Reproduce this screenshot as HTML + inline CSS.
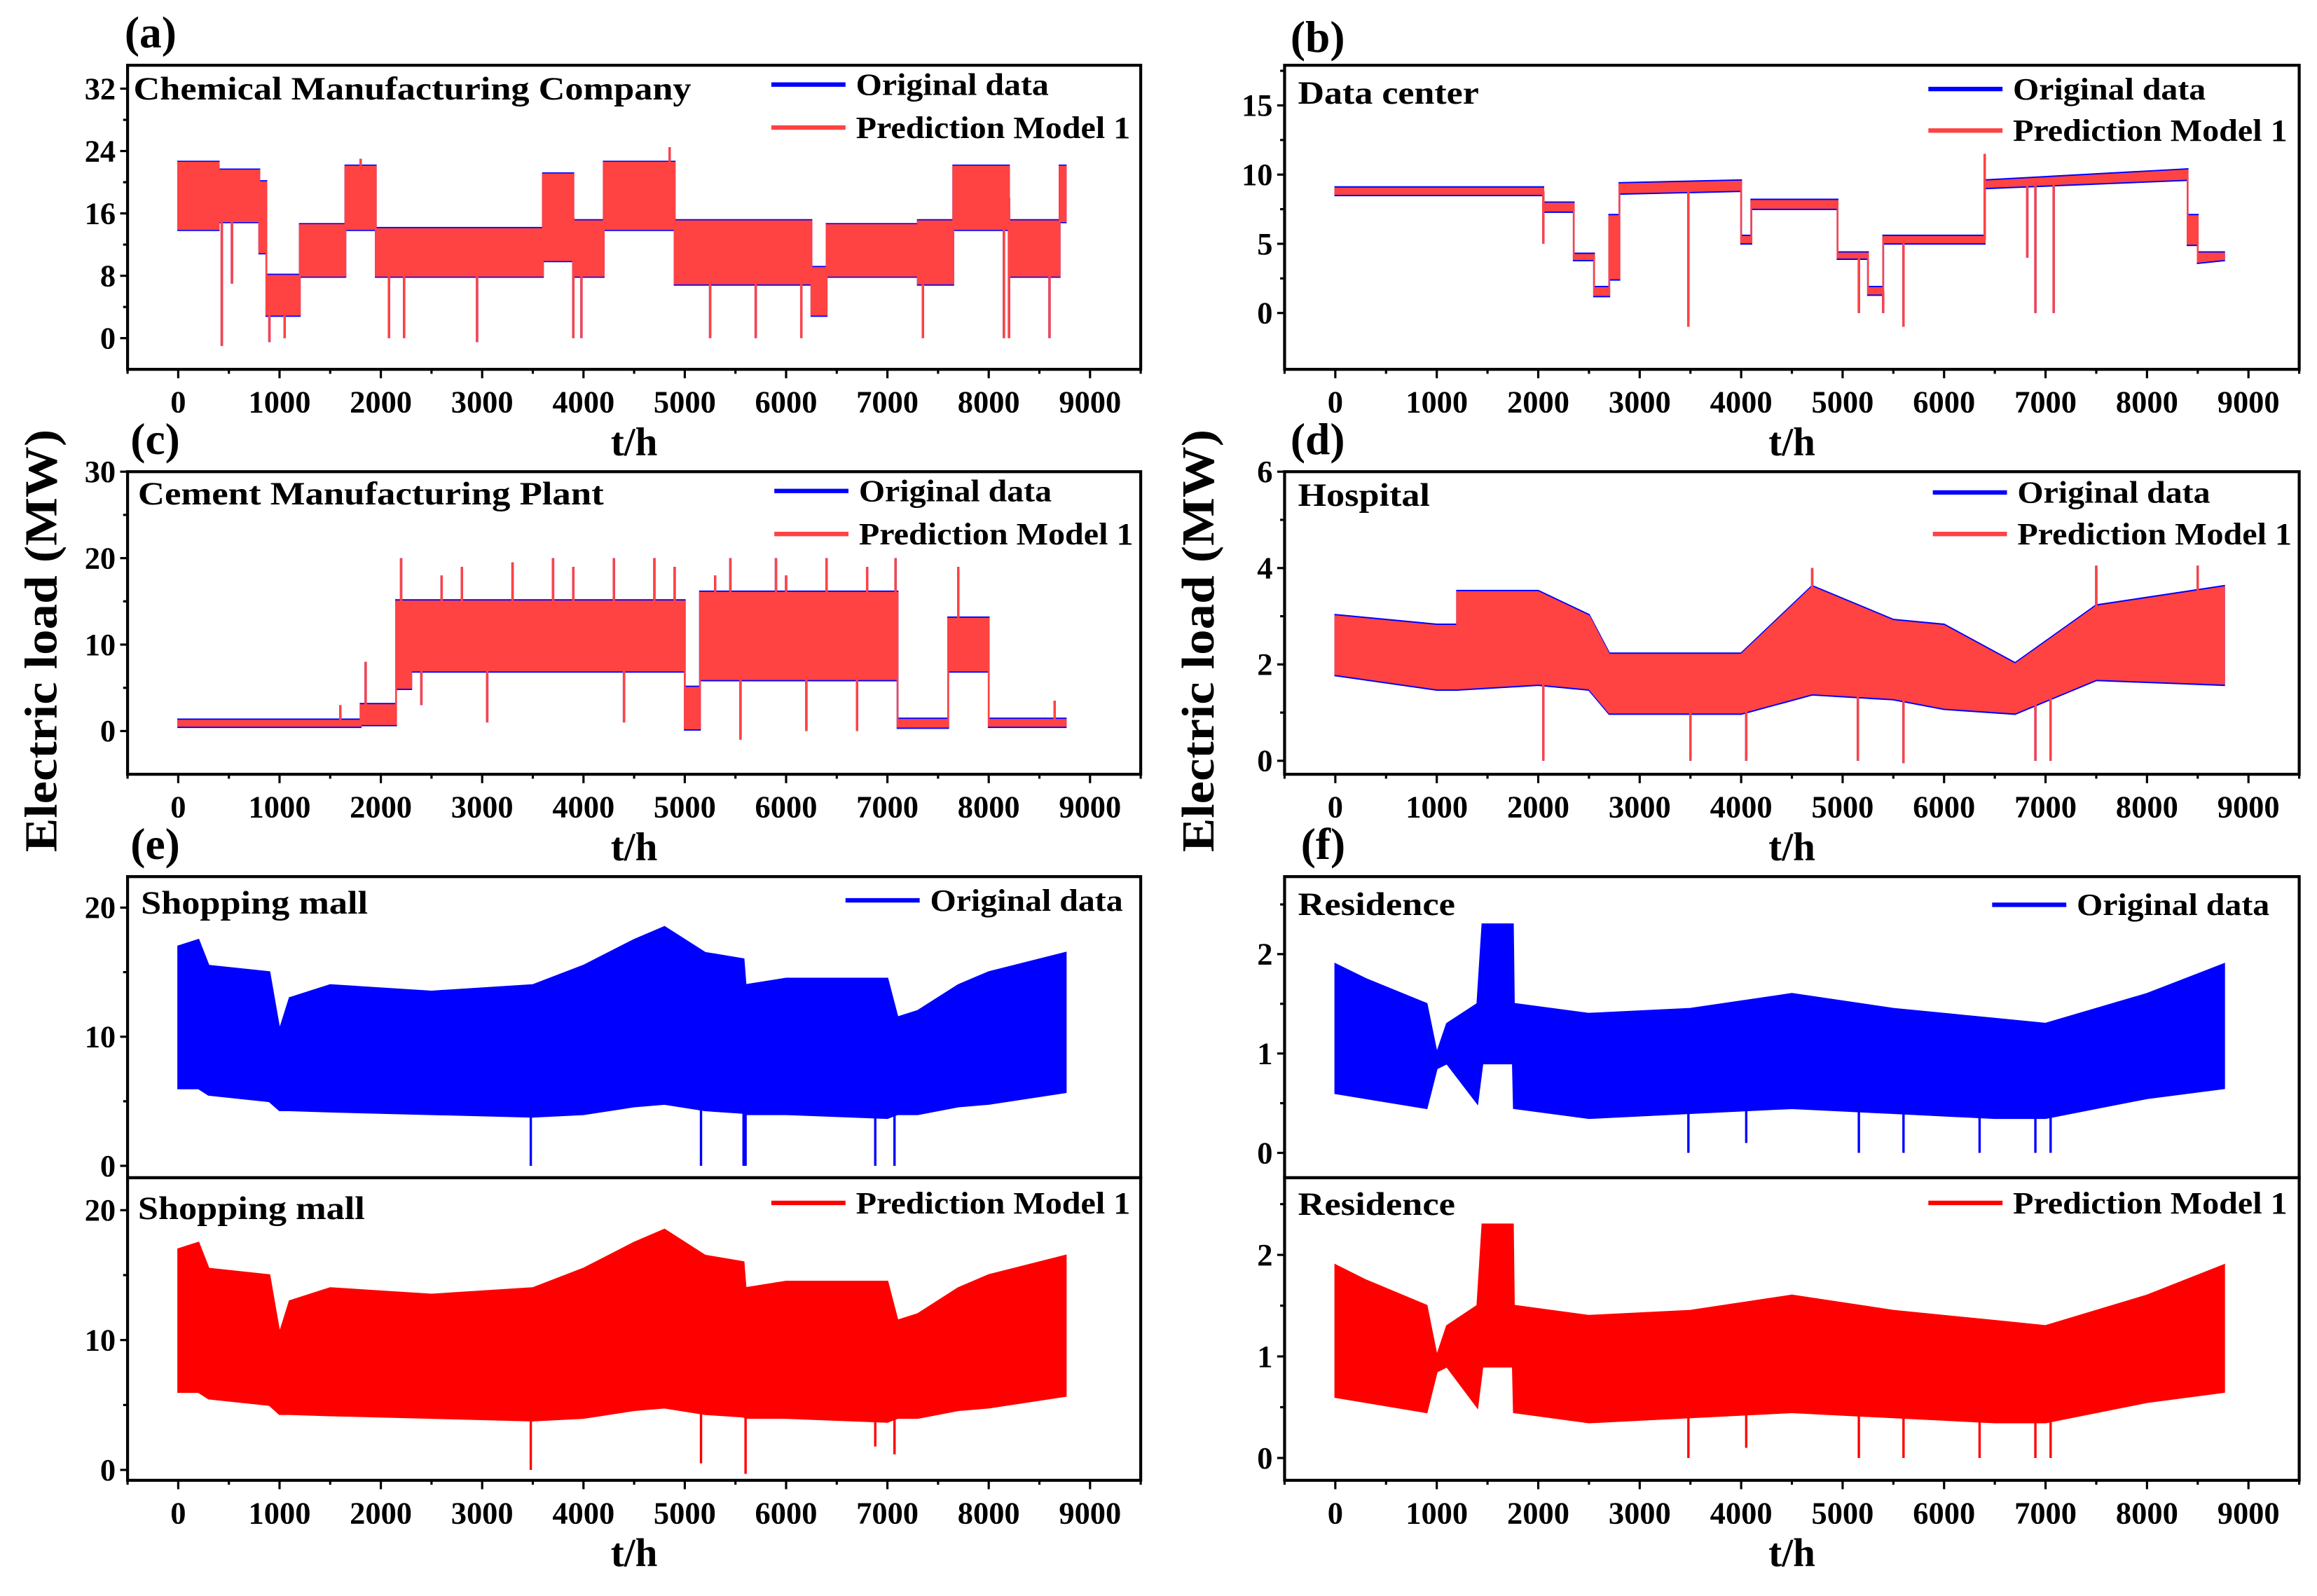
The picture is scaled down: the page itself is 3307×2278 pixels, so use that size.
<!DOCTYPE html>
<html><head><meta charset="utf-8">
<style>
html,body{margin:0;padding:0;background:#fff;}
svg{display:block;}
text{font-family:"Liberation Serif",serif;font-weight:bold;fill:#000;}
</style></head>
<body>
<svg id="fig" width="3307" height="2278" viewBox="0 0 1562 1076" preserveAspectRatio="none" xmlns="http://www.w3.org/2000/svg"></svg>
<script>
// ---- data (a) chemical
const aT=[0,400,400,800,800,870,870,1200,1200,1650,1650,1950,1950,3600,3600,3900,3900,4200,4200,4900,4900,6250,6250,6400,6400,7300,7300,7650,7650,8200,8200,8700,8700,8760];
const aTop=[22.5,22.5,21.5,21.5,20,20,8,8,14.5,14.5,22,22,14,14,21,21,15,15,22.5,22.5,15,15,9,9,14.5,14.5,15,15,22,22,15,15,22,22];
const aBot=[14,14,15,15,11,11,3,3,8,8,14,14,8,8,10,10,8,8,14,14,7,7,3,3,8,8,7,7,14,14,8,8,15,15];
const aSpT=[430,530,900,1050,2080,2230,2950,3900,3980,5250,5700,6150,7350,8150,8200,8600,4850,1800];
const aSpV=[-1,7,-0.5,0,0,0,-0.5,0,0,0,0,0,0,0,0,0,24.5,23];
// ---- data (b) data center
const bT=[0,2050,2050,2350,2350,2550,2550,2700,2700,2800,2800,4000,4000,4100,4100,4950,4950,5250,5250,5400,5400,6400,6400,8400,8400,8500,8500,8760];
const bTop=[9.0,9.0,7.9,7.9,4.2,4.2,1.8,1.8,7,7,9.3,9.5,5.5,5.5,8.1,8.1,4.3,4.3,1.8,1.8,5.5,5.5,9.5,10.3,7,7,4.3,4.3];
const bBot=[8.6,8.6,7.4,7.4,3.9,3.9,1.3,1.3,2.5,2.5,8.7,8.9,5.1,5.1,7.6,7.6,4.0,4.0,1.4,1.4,5.1,5.1,9.1,9.7,5,5,3.7,3.9];
const bSpT=[2050,3480,5600,5160,6400,6900,7080,6820,5400];
const bSpV=[5,-1,-1,0,11.5,0,0,4,0];
// ---- data (c) cement
const cT=[0,1800,1800,2150,2150,2300,2300,5000,5000,5150,5150,7100,7100,7600,7600,8000,8000,8760];
const cTop=[1.2,1.2,3,3,15,15,15,15,5,5,16,16,1.3,1.3,13,13,1.3,1.3];
const cBot=[0.6,0.6,0.8,0.8,5,5,7,7,0.3,0.3,6,6,0.5,0.5,7,7,0.6,0.6];
const cSpT=[1850,2200,2800,3300,3700,4300,4700,5450,5900,6400,7080,7700,1600,8650,3050,4400,5550,6200,6700,2400,2600,3900,4900,5300,6000,6800];
const cSpV=[8,20,19,19.5,20,20,20,20,20,20,20,19,3,3.5,1,1,-1,0,0,3,18,19,19,18,18,19];
// ---- data (d) hospital
const dT=[0,1000,1200,1200,2000,2500,2700,4000,4700,5500,6000,6700,7500,8760];
const dTop=[3.0,2.8,2.8,3.5,3.5,3.0,2.2,2.2,3.6,2.9,2.8,2.0,3.2,3.6];
const dBot=[1.8,1.5,1.5,1.5,1.6,1.5,1.0,1.0,1.4,1.3,1.1,1.0,1.7,1.6];
const dSpT=[2050,3500,4050,5150,5600,6900,7050,4700,7500,8500];
const dSpV=[0,0,0,0,-0.05,0,0,4,4.05,4.05];
// ---- data (e) shopping mall
const eT=[0,200,300,900,1000,1100,1500,2500,3500,4000,4500,4800,5200,5580,5600,6000,7000,7100,7300,7700,8000,8760];
const eTop=[17,17.5,15.5,15,10.5,13,14,13.5,14,15.5,17.5,18.5,16.5,16,14,14.5,14.5,11.5,12,14,15,16.5];
const eBot=[6,6,5.5,5,4.3,4.3,4.2,4.0,3.8,4,4.6,4.8,4.3,4.1,4.0,4.0,3.7,4.0,4.0,4.6,4.8,5.7];
const eSpT=[3480,5160,5580,5600,6880,7070];
const eSpV=[0,0,0,0,0,0];
const e2SpT=[3480,5160,5600,6880,7070];
const e2SpV=[0,0.5,-0.3,1.8,1.2];
// ---- data (f) residence
const fT=[0,300,900,1000,1100,1400,1450,1750,1760,2500,3500,4500,5500,6500,7000,7500,8000,8760];
const fTop=[1.9,1.75,1.5,1.0,1.3,1.5,2.3,2.3,1.5,1.4,1.45,1.6,1.45,1.35,1.3,1.45,1.6,1.9];
const fBot=[0.6,0.55,0.45,0.85,0.9,0.5,0.9,0.9,0.45,0.35,0.4,0.45,0.4,0.35,0.35,0.45,0.55,0.65];
const fSpT=[3480,4050,5160,5600,6350,6900,7050];
const fSpV=[0,0.1,0,0,0,0,0];
const xTicks=[0,1000,2000,3000,4000,5000,6000,7000,8000,9000];

const NS="http://www.w3.org/2000/svg";
const svg=document.getElementById('fig');
function mk(tag,attrs,parent){const e=document.createElementNS(NS,tag);for(const k in attrs)e.setAttribute(k,attrs[k]);(parent||svg).appendChild(e);return e;}
function interp(T,V,t){for(let i=0;i<T.length-1;i++){if(t>=T[i]&&t<=T[i+1]){const d=T[i+1]-T[i];return d?V[i]+(V[i+1]-V[i])*(t-T[i])/d:V[i+1];}}return V[V.length-1];}

function panel(p){
  const g=mk('g',{});
  
  
  const X=t=>p.x0+(t-(-500))/10000*(p.x1-p.x0);
  const Y=v=>p.y1-(v-p.ymin)/(p.ymax-p.ymin)*(p.y1-p.y0);
  p.series.forEach(s=>{
    const sg=mk('g',{},g);
    
    
    let pts=[];
    for(let i=0;i<s.T.length;i++)pts.push(X(s.T[i]).toFixed(2)+','+Y(s.top[i]+s.off).toFixed(2));
    for(let i=s.T.length-1;i>=0;i--)pts.push(X(s.T[i]).toFixed(2)+','+Y(s.bot[i]-s.off).toFixed(2));
    const poly=mk('polygon',{points:pts.join(' '),fill:s.color,stroke:s.color,'stroke-width':s.sw,'stroke-linejoin':'miter'},sg);
    
    
    for(let i=0;i<s.spT.length;i++){
      const mid=(interp(s.T,s.top,s.spT[i])+interp(s.T,s.bot,s.spT[i]))/2;
      const l=mk('line',{x1:X(s.spT[i]),x2:X(s.spT[i]),y1:Y(mid),y2:Y(s.spV[i]),stroke:s.color,'stroke-width':1.6},sg);
      
      
    }
  });
  const fr=mk('rect',{x:p.x0,y:p.y0,width:p.x1-p.x0,height:p.y1-p.y0,fill:'none',stroke:'#000','stroke-width':2},g);
  
  
  for(let v=p.yt0;v<=p.ymax+1e-9;v+=p.ystep/2){
    const major=Math.abs(Math.round(v/p.ystep)*p.ystep-v)<1e-6;
    mk('line',{x1:p.x0,x2:p.x0-(major?5:3),y1:Y(v),y2:Y(v),stroke:'#000','stroke-width':1.5},g);
    if(major){const t=mk('text',{x:p.x0-8,y:Y(v)+7,'text-anchor':'end','font-size':21},g);t.textContent=String(+v.toFixed(2));
      
      }
  }
  if(p.xaxis){
    for(let k=-500;k<=9500;k+=500){
      const major=k%1000===0;
      mk('line',{x1:X(k),x2:X(k),y1:p.y1,y2:p.y1+(major?6:3),stroke:'#000','stroke-width':1.5},g);
    }
    xTicks.forEach(k=>{const t=mk('text',{x:X(k),y:p.y1+29,'text-anchor':'middle','font-size':21},g);t.textContent=k;
      
      });
    const xt=mk('text',{x:(p.x0+p.x1)/2,y:p.y1+58,'text-anchor':'middle','font-size':27},g);xt.textContent='t/h';
    
    
  }
  const tt=mk('text',{x:p.tx,y:p.ty+7,'font-size':22,textLength:p.tw,lengthAdjust:'spacingAndGlyphs'},g);tt.textContent=p.title;
  
  
  p.legend.forEach(L=>{
    const ll=mk('line',{x1:L.x,x2:L.x+50,y1:L.y,y2:L.y,stroke:L.color,'stroke-width':3},g);
    
    
    const lt=mk('text',{x:L.x+57,y:L.y+7,'font-size':21,textLength:L.w,lengthAdjust:'spacingAndGlyphs'},g);lt.textContent=L.label;
    
    
  });
}
const BLUE='#0000ff',RED='#ff4343',PRED='#ff0000';
function two(T,top,bot,spT,spV,off){return[
  {name:'original-data',T:T,top:top,bot:bot,spT:spT,spV:spV,color:BLUE,off:off,sw:1.2},
  {name:'prediction-model-1',T:T,top:top,bot:bot,spT:spT,spV:spV,color:RED,off:0,sw:1.2}];}
const OD='Original data',PM='Prediction Model 1';
panel({name:'panel-a',x0:86,x1:769,y0:44,y1:249,ymin:-4,ymax:35,yt0:0,ystep:8,xaxis:true,
  title:'Chemical Manufacturing Company',tx:90,ty:60,tw:376,series:two(aT,aTop,aBot,aSpT,aSpV,0.15),
  legend:[{x:520,y:57,color:BLUE,label:OD,w:130},{x:520,y:86,color:RED,label:PM,w:185}]});
panel({name:'panel-b',x0:866,x1:1550,y0:44,y1:249,ymin:-4.07,ymax:17.9,yt0:0,ystep:5,xaxis:true,
  title:'Data center',tx:875,ty:63,tw:122,series:two(bT,bTop,bBot,bSpT,bSpV,0.1),
  legend:[{x:1300,y:60,color:BLUE,label:OD,w:130},{x:1300,y:88,color:RED,label:PM,w:185}]});
panel({name:'panel-c',x0:86,x1:769,y0:318,y1:522,ymin:-5,ymax:30,yt0:0,ystep:10,xaxis:true,
  title:'Cement Manufacturing Plant',tx:93,ty:333,tw:314,series:two(cT,cTop,cBot,cSpT,cSpV,0.15),
  legend:[{x:522,y:331,color:BLUE,label:OD,w:130},{x:522,y:360,color:RED,label:PM,w:185}]});
panel({name:'panel-d',x0:866,x1:1550,y0:318,y1:522,ymin:-0.28,ymax:6,yt0:0,ystep:2,xaxis:true,
  title:'Hospital',tx:875,ty:334,tw:89,series:two(dT,dTop,dBot,dSpT,dSpV,0.03),
  legend:[{x:1303,y:332,color:BLUE,label:OD,w:130},{x:1303,y:360,color:RED,label:PM,w:185}]});
panel({name:'panel-e-original',x0:86,x1:769,y0:591,y1:794,ymin:-0.92,ymax:22.4,yt0:0,ystep:10,xaxis:false,
  title:'Shopping mall',tx:95,ty:609,tw:153,
  series:[{name:'original-data',T:eT,top:eTop,bot:eBot,spT:eSpT,spV:eSpV,color:BLUE,off:0,sw:1.2}],
  legend:[{x:570,y:607,color:BLUE,label:OD,w:130}]});
panel({name:'panel-e-prediction',x0:86,x1:769,y0:794,y1:998,ymin:-0.8,ymax:22.5,yt0:0,ystep:10,xaxis:true,
  title:'Shopping mall',tx:93,ty:815,tw:153,
  series:[{name:'prediction-model-1',T:eT,top:eTop,bot:eBot,spT:e2SpT,spV:e2SpV,color:PRED,off:0,sw:1.2}],
  legend:[{x:520,y:811,color:PRED,label:PM,w:185}]});
panel({name:'panel-f-original',x0:866,x1:1550,y0:591,y1:794,ymin:-0.25,ymax:2.78,yt0:0,ystep:1,xaxis:false,
  title:'Residence',tx:875,ty:610,tw:106,
  series:[{name:'original-data',T:fT,top:fTop,bot:fBot,spT:fSpT,spV:fSpV,color:BLUE,off:0,sw:1.2}],
  legend:[{x:1343,y:610,color:BLUE,label:OD,w:130}]});
panel({name:'panel-f-prediction',x0:866,x1:1550,y0:794,y1:998,ymin:-0.22,ymax:2.76,yt0:0,ystep:1,xaxis:true,
  title:'Residence',tx:875,ty:812,tw:106,
  series:[{name:'prediction-model-1',T:fT,top:fTop,bot:fBot,spT:fSpT,spV:fSpV,color:PRED,off:0,sw:1.2}],
  legend:[{x:1300,y:811,color:PRED,label:PM,w:185}]});
[['(a)',84,32],['(b)',870,35],['(c)',88,306],['(d)',870,306],['(e)',88,579],['(f)',877,579]].forEach(a=>{
  const t=mk('text',{x:a[1],y:a[2],'font-size':30});t.textContent=a[0];
  
  
});
[38,818].forEach(x=>{
  const t=mk('text',{x:x,y:432,'font-size':31,'text-anchor':'middle',transform:'rotate(-90 '+x+' 432)',textLength:285,lengthAdjust:'spacingAndGlyphs'});
  t.textContent='Electric load (MW)';
  
  
});
</script>
</body></html>
